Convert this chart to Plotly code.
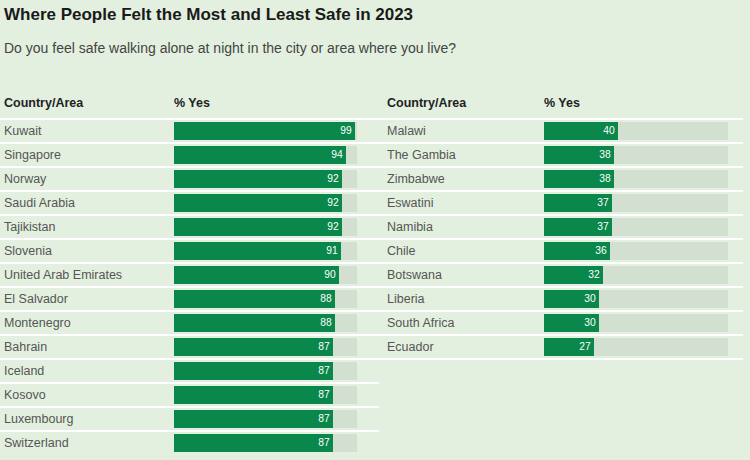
import plotly.graph_objects as go

title = "Where People Felt the Most and Least Safe in 2023"
subtitle = "Do you feel safe walking alone at night in the city or area where you live?"
col_headers = ["Country/Area", "% Yes"]

most_countries = ["Kuwait", "Singapore", "Norway", "Saudi Arabia", "Tajikistan", "Slovenia",
                  "United Arab Emirates", "El Salvador", "Montenegro", "Bahrain", "Iceland",
                  "Kosovo", "Luxembourg", "Switzerland"]
most_values = [99, 94, 92, 92, 92, 91, 90, 88, 88, 87, 87, 87, 87, 87]

least_countries = ["Malawi", "The Gambia", "Zimbabwe", "Eswatini", "Namibia", "Chile",
                   "Botswana", "Liberia", "South Africa", "Ecuador"]
least_values = [40, 38, 38, 37, 37, 36, 32, 30, 30, 27]

BG = "#e3f0df"
TRACK = "#d3dfd0"
GREEN = "#0a874a"
W, H = 750, 460

fig = go.Figure()

def add_table(countries, values, xa):
    rows = list(range(len(countries)))
    fig.add_trace(go.Bar(x=[100] * len(rows), y=rows, orientation="h", xaxis=xa, yaxis="y",
                         marker=dict(color=TRACK, line=dict(width=0)), width=0.75,
                         hoverinfo="skip", showlegend=False))
    fig.add_trace(go.Bar(x=values, y=rows, orientation="h", xaxis=xa, yaxis="y",
                         marker=dict(color=GREEN, line=dict(width=0)), width=0.75,
                         text=[str(v) for v in values], textposition="inside",
                         insidetextanchor="end", textangle=0,
                         textfont=dict(color="white", size=12, family="Arial"),
                         cliponaxis=False, showlegend=False))

add_table(most_countries, most_values, "x")
add_table(least_countries, least_values, "x2")

annotations = []
shapes = []

def labels(countries, xpix, barpix, lx0, lx1, bottom_line):
    for i, c in enumerate(countries):
        annotations.append(dict(x=xpix / W, y=i, xref="paper", yref="y", text=c,
                                showarrow=False, xanchor="left", yanchor="middle",
                                font=dict(family="Arial", size=12.5, color="#555555")))
    annotations.append(dict(x=xpix / W, y=-1.15, xref="paper", yref="y", text="<b>" + col_headers[0] + "</b>",
                            showarrow=False, xanchor="left", yanchor="middle",
                            font=dict(family="Arial", size=12.5, color="#222222")))
    annotations.append(dict(x=barpix / W, y=-1.15, xref="paper", yref="y", text="<b>" + col_headers[1] + "</b>",
                            showarrow=False, xanchor="left", yanchor="middle",
                            font=dict(family="Arial", size=12.5, color="#222222")))
    n = len(countries) + (1 if bottom_line else 0)
    for i in range(n):
        shapes.append(dict(type="line", xref="paper", yref="y", x0=lx0 / W, x1=lx1 / W,
                           y0=i - 0.5, y1=i - 0.5, line=dict(color="white", width=2), layer="below"))

labels(most_countries, 2, 172, 0, 379, False)
labels(least_countries, 385, 542, 379, 743, True)

annotations.append(dict(x=2 / W, y=1 - 14 / H, xref="paper", yref="paper", text="<b>" + title + "</b>",
                        showarrow=False, xanchor="left", yanchor="middle",
                        font=dict(family="Arial", size=17, color="#1a1a1a")))
annotations.append(dict(x=2 / W, y=1 - 48 / H, xref="paper", yref="paper", text=subtitle,
                        showarrow=False, xanchor="left", yanchor="middle",
                        font=dict(family="Arial", size=14, color="#444444")))

fig.update_layout(
    width=W, height=H, margin=dict(l=0, r=0, t=0, b=0),
    paper_bgcolor=BG, plot_bgcolor=BG, barmode="overlay", bargap=0,
    xaxis=dict(domain=[174 / W, 357 / W], range=[0, 100], visible=False, fixedrange=True, anchor="y"),
    xaxis2=dict(domain=[544 / W, 728 / W], range=[0, 100], visible=False, fixedrange=True, anchor="y"),
    yaxis=dict(domain=[0, 1], range=[(460 - 131) / 24, -131 / 24], visible=False, fixedrange=True),
    annotations=annotations, shapes=shapes, showlegend=False,
    uniformtext=dict(minsize=8, mode="show"),
)

fig.write_html("out.html", config={"displayModeBar": False},
               post_script="document.body.style.margin='0';document.body.style.background='" + BG + "';")
